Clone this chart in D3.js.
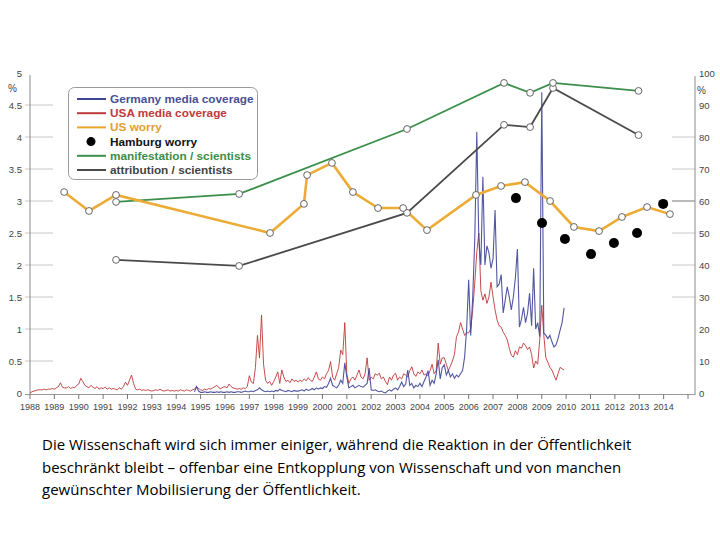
<!DOCTYPE html>
<html><head><meta charset="utf-8">
<script src="https://cdn.jsdelivr.net/npm/d3@7"></script>
<style>body{margin:0;background:#fff;}svg{display:block;font-family:"Liberation Sans",Arial,sans-serif;}</style>
</head><body><svg id="c" width="720" height="540"></svg>
<script>
// ---- data ----
const yearTicks = d3.range(1988, 2016);
const yearLabels = d3.range(1988, 2015).map(String);
const leftTicks = [0, 0.5, 1, 1.5, 2, 2.5, 3, 3.5, 4, 4.5, 5];
const rightTicks = [0, 10, 20, 30, 40, 50, 60, 70, 80, 90, 100];

const usaStart = 1988;
const usaCoverage = [
0.00,0.02,0.03,0.04,0.05,0.05,0.05,0.06,0.05,0.06,0.06,0.07,
0.06,0.08,0.10,0.16,0.09,0.08,0.08,0.10,0.07,0.09,0.08,0.12,
0.14,0.23,0.18,0.12,0.10,0.08,0.12,0.09,0.07,0.10,0.06,0.08,
0.07,0.09,0.06,0.08,0.06,0.07,0.06,0.05,0.08,0.06,0.10,0.17,
0.12,0.20,0.28,0.15,0.06,0.05,0.06,0.04,0.05,0.04,0.05,0.04,
0.03,0.04,0.05,0.04,0.06,0.04,0.03,0.04,0.05,0.03,0.04,0.03,
0.04,0.03,0.05,0.04,0.03,0.05,0.04,0.03,0.05,0.06,0.10,0.07,
0.05,0.04,0.06,0.05,0.07,0.06,0.08,0.10,0.12,0.08,0.07,0.09,
0.10,0.08,0.14,0.10,0.08,0.07,0.06,0.07,0.06,0.08,0.07,0.10,
0.27,0.17,0.15,0.40,0.90,0.55,1.22,0.45,0.20,0.15,0.18,0.12,
0.18,0.25,0.33,0.15,0.36,0.25,0.18,0.20,0.16,0.22,0.18,0.20,
0.17,0.20,0.18,0.22,0.19,0.24,0.20,0.18,0.25,0.33,0.22,0.20,
0.25,0.22,0.30,0.35,0.49,0.25,0.20,0.30,0.40,0.67,0.60,1.10,
0.30,0.15,0.22,0.25,0.20,0.28,0.36,0.25,0.22,0.30,0.55,0.20,
0.25,0.22,0.30,0.28,0.31,0.22,0.25,0.18,0.13,0.25,0.20,0.28,
0.31,0.20,0.25,0.22,0.30,0.28,0.25,0.35,0.41,0.30,0.26,0.33,
0.30,0.36,0.28,0.30,0.27,0.35,0.45,0.30,0.35,0.78,0.45,0.55,
0.55,0.45,0.35,0.42,0.50,0.60,0.88,0.95,1.10,1.00,0.90,0.94,
0.94,1.00,1.30,1.72,2.20,2.50,1.60,1.45,1.55,1.40,1.50,1.73,
1.50,1.30,1.14,1.05,1.03,0.95,0.90,0.83,0.70,0.59,0.56,0.66,
0.60,0.72,0.70,0.78,0.74,0.68,0.72,0.60,0.39,0.50,0.45,0.83,
1.37,0.90,0.55,0.48,0.40,0.36,0.28,0.20,0.30,0.40,0.38,0.36];

const germanyStart = 1994.75;
const germanyCoverage = [
0.02,0.10,0.03,
0.01,0.01,0.02,0.01,0.01,0.02,0.01,0.01,0.02,0.01,0.02,0.01,
0.01,0.02,0.01,0.02,0.01,0.01,0.02,0.02,0.01,0.02,0.03,0.02,
0.02,0.03,0.02,0.04,0.05,0.08,0.05,0.03,0.02,0.03,0.02,0.03,
0.02,0.04,0.03,0.06,0.04,0.03,0.02,0.04,0.03,0.02,0.04,0.03,
0.03,0.04,0.05,0.03,0.06,0.04,0.05,0.07,0.05,0.08,0.06,0.08,
0.07,0.10,0.09,0.15,0.23,0.12,0.10,0.08,0.12,0.20,0.15,0.47,
0.25,0.08,0.10,0.12,0.08,0.10,0.12,0.10,0.09,0.12,0.15,0.39,
0.05,0.04,0.05,0.03,0.02,0.03,0.01,0.00,0.03,0.05,0.03,0.06,
0.08,0.05,0.10,0.17,0.10,0.14,0.36,0.12,0.15,0.08,0.12,0.10,
0.15,0.10,0.18,0.25,0.35,0.12,0.20,0.15,0.30,0.52,0.22,0.40,
0.44,0.28,0.35,0.25,0.30,0.23,0.28,0.25,0.30,0.35,0.56,1.00,
1.77,0.90,1.50,2.40,4.08,2.40,2.00,3.38,2.00,2.30,2.19,1.95,
2.10,2.86,1.66,1.70,1.85,1.25,1.45,1.66,1.50,1.30,1.50,1.80,
2.25,1.03,1.15,1.34,1.10,1.25,1.56,1.05,1.95,1.00,1.10,0.88,
4.70,0.94,0.90,0.85,0.90,0.80,0.72,0.75,0.85,0.98,1.10,1.33];

const usWorryYears = [1989.40,1990.42,1991.53,1997.85,1999.24,1999.37,2000.39,2001.25,2002.28,2003.31,2004.29,2006.30,2007.33,2008.31,2009.34,2010.32,2011.35,2012.29,2013.32,2014.26];
const usWorry = [62.8,56.9,61.9,50.0,59.1,68.1,71.9,62.8,57.8,57.8,50.9,61.9,64.7,65.9,60.0,51.9,50.6,55.0,58.1,55.9];

const hamburgYears = [2007.94,2009.01,2009.95,2011.02,2011.96,2012.91,2013.98];
const hamburgWorry = [60.9,53.1,48.1,43.4,46.9,50.0,59.1];

const sciYears = [1991.53,1996.58,2003.47,2007.45,2008.52,2009.46,2012.97];
const manifestation = [59.7,62.2,82.5,96.9,93.8,96.9,94.4];
const attribution = [41.6,39.7,56.3,83.8,83.1,95.3,80.6];

const legendItems = [
  {label:"Germany media coverage", color:"#3f4596", text:"#4a4f96", type:"line"},
  {label:"USA media coverage", color:"#c0393b", text:"#c0393b", type:"line"},
  {label:"US worry", color:"#eaa52a", text:"#e0a030", type:"line"},
  {label:"Hamburg worry", color:"#000", text:"#111", type:"dot"},
  {label:"manifestation / scientists", color:"#3a8f4a", text:"#3b8d47", type:"line"},
  {label:"attribution / scientists", color:"#4a4a4a", text:"#444", type:"line"}
];

const caption = [
  "Die Wissenschaft wird sich immer einiger, während die Reaktion in der Öffentlichkeit",
  "beschränkt bleibt – offenbar eine Entkopplung von Wissenschaft und von manchen",
  "gewünschter Mobilisierung der Öffentlichkeit."
];

// ---- drawing ----
const svg = d3.select("#c");
const x = d3.scaleLinear().domain([1988, 2015]).range([30, 688]);
const yL = d3.scaleLinear().domain([0, 5]).range([393, 73]);
const yR = d3.scaleLinear().domain([0, 100]).range([393, 73]);

// left axis
const gl = svg.append("g");
gl.selectAll("line.t").data(leftTicks.filter(d=>d>0 && d<5)).join("line")
  .attr("x1",25).attr("x2",53).attr("y1",d=>yL(d)).attr("y2",d=>yL(d))
  .attr("stroke","#c8c8c8").attr("stroke-width",1);
gl.append("line").attr("x1",30).attr("x2",30).attr("y1",yL(4.97)).attr("y2",395).attr("stroke","#8a8a8a");
gl.selectAll("text").data(leftTicks).join("text")
  .attr("x",22).attr("y",d=>yL(d)+3.5).attr("text-anchor","end")
  .attr("font-size",9.5).attr("fill","#444").text(d=>String(d));
svg.append("text").attr("x",8).attr("y",92).attr("font-size",10).attr("fill","#444").text("%");

// right axis
const gr = svg.append("g");
gr.selectAll("line.t").data(rightTicks.filter(d=>d>=30 && d<=80)).join("line")
  .attr("x1",672).attr("x2",695).attr("y1",d=>yR(d)).attr("y2",d=>yR(d))
  .attr("stroke",d=>d===60?"#777":"#c8c8c8").attr("stroke-width",1);
gr.append("line").attr("x1",695).attr("x2",695).attr("y1",yR(99)).attr("y2",395).attr("stroke","#8a8a8a");
gr.selectAll("text").data(rightTicks).join("text")
  .attr("x",699).attr("y",d=>yR(d)+3.5).attr("font-size",9.5).attr("fill","#444").text(d=>String(d));
svg.append("text").attr("x",697).attr("y",94).attr("font-size",10).attr("fill","#444").text("%");

// x axis
const gx = svg.append("g");
gx.append("line").attr("x1",25).attr("x2",695).attr("y1",394.5).attr("y2",394.5).attr("stroke","#9a9a9a");
gx.selectAll("line.t").data(yearTicks).join("line")
  .attr("x1",d=>x(d)).attr("x2",d=>x(d)).attr("y1",394).attr("y2",399).attr("stroke","#777");
gx.selectAll("text").data(yearLabels).join("text")
  .attr("x",(d)=>x(+d)).attr("y",410).attr("text-anchor","middle")
  .attr("font-size",9).attr("fill","#444").text(d=>d);

// media lines
const usaData = usaCoverage.map((v,i)=>[usaStart+i/12, v]);
const gerData = germanyCoverage.map((v,i)=>[germanyStart+i/12, v]);
const mline = d3.line().x(d=>x(d[0])).y(d=>yL(d[1]));
svg.append("path").datum(usaData).attr("d",mline).attr("fill","none").attr("stroke","#c0393b").attr("stroke-width",1).attr("opacity",0.9);
svg.append("path").datum(gerData).attr("d",mline).attr("fill","none").attr("stroke","#3f4596").attr("stroke-width",1.1).attr("opacity",0.9);

const pline = d3.line().x(d=>x(d[0])).y(d=>yR(d[1]));
const attrData = sciYears.map((y,i)=>[y, attribution[i]]);
const manData = sciYears.map((y,i)=>[y, manifestation[i]]);
const worryData = usWorryYears.map((y,i)=>[y, usWorry[i]]);
svg.append("path").datum(attrData).attr("d",pline).attr("fill","none").attr("stroke","#4a4a4a").attr("stroke-width",1.8);
svg.append("path").datum(manData).attr("d",pline).attr("fill","none").attr("stroke","#3a8f4a").attr("stroke-width",1.8);
svg.append("path").datum(worryData).attr("d",pline).attr("fill","none").attr("stroke","#ecab35").attr("stroke-width",2.6);

function circles(data){
  svg.append("g").selectAll("circle").data(data).join("circle")
    .attr("cx",d=>x(d[0])).attr("cy",d=>yR(d[1])).attr("r",3.4)
    .attr("fill","#fff").attr("stroke","#555").attr("stroke-width",0.9);
}
circles(attrData); circles(manData); circles(worryData);

svg.append("g").selectAll("circle").data(hamburgYears.map((y,i)=>[y,hamburgWorry[i]])).join("circle")
  .attr("cx",d=>x(d[0])).attr("cy",d=>yR(d[1])).attr("r",5).attr("fill","#000");

// legend
const lg = svg.append("g");
lg.append("rect").attr("x",68.5).attr("y",87.5).attr("width",189).attr("height",92).attr("rx",6)
  .attr("fill","#fff").attr("stroke","#9a9a9a").attr("stroke-width",1);
legendItems.forEach((d,i)=>{
  const yy = 99 + i*14.2;
  if(d.type==="line"){
    lg.append("line").attr("x1",77).attr("x2",106).attr("y1",yy).attr("y2",yy).attr("stroke",d.color).attr("stroke-width",2);
  } else {
    lg.append("circle").attr("cx",91).attr("cy",yy).attr("r",4.5).attr("fill",d.color);
  }
  lg.append("text").attr("x",110).attr("y",yy+4).attr("font-size",11.8).attr("font-weight","bold")
    .attr("fill",d.text).text(d.label);
});

// caption
svg.append("g").selectAll("text").data(caption).join("text")
  .attr("x",42).attr("y",(d,i)=>450+i*22.5).attr("font-size",15)
  .attr("font-family","'Open Sans',sans-serif").attr("fill","#000")
  .text(d=>d);
</script></body></html>
